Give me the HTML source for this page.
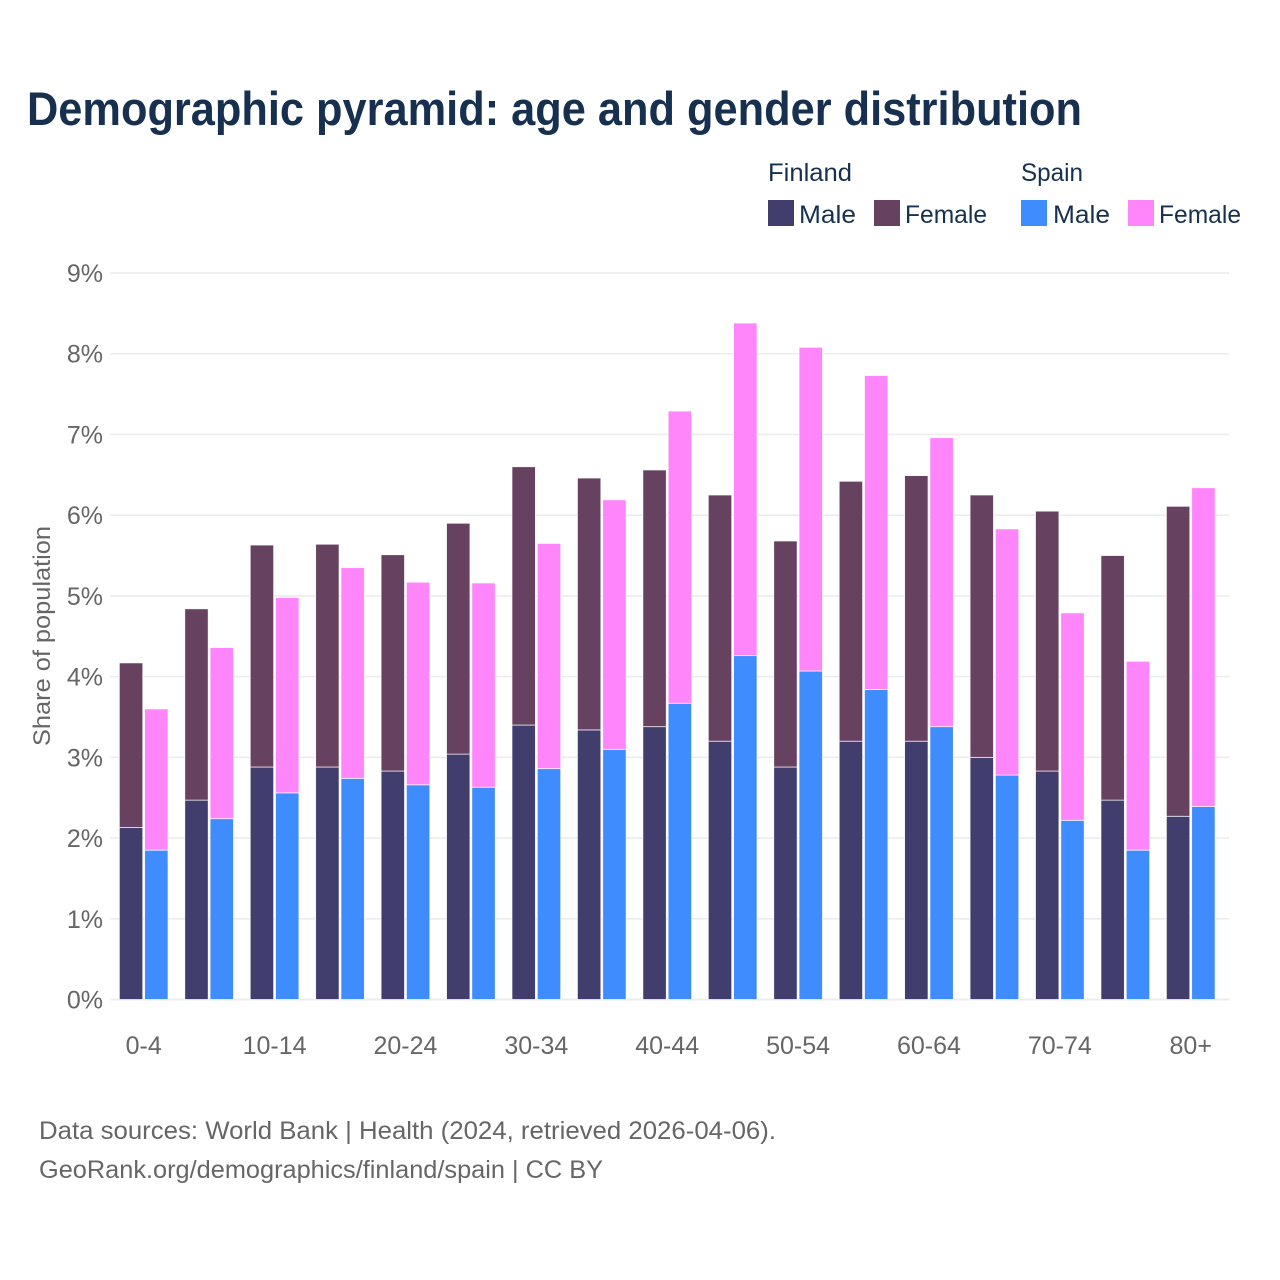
<!DOCTYPE html>
<html lang="en">
<head>
<meta charset="utf-8">
<title>Demographic pyramid</title>
<style>
html,body{margin:0;padding:0;background:#fff;width:1280px;height:1280px;overflow:hidden}
svg{display:block}
text{font-family:"Liberation Sans",sans-serif}
</style>
</head>
<body>
<svg id="chart" width="1280" height="1280" viewBox="0 0 1280 1280" xmlns="http://www.w3.org/2000/svg">
  <rect width="1280" height="1280" fill="#fff"/>
  <text x="27" y="125" font-size="47" font-weight="700" fill="#17304f" textLength="1055" lengthAdjust="spacingAndGlyphs">Demographic pyramid: age and gender distribution</text>

  <g font-size="25" fill="#17304f">
    <text x="768" y="181" textLength="84" lengthAdjust="spacingAndGlyphs">Finland</text>
    <text x="1021" y="181" textLength="62" lengthAdjust="spacingAndGlyphs">Spain</text>
    <rect x="768" y="200" width="26" height="26" fill="#413e6e"/>
    <text x="799" y="223" textLength="57" lengthAdjust="spacingAndGlyphs">Male</text>
    <rect x="874" y="200" width="26" height="26" fill="#674160"/>
    <text x="905" y="223" textLength="82" lengthAdjust="spacingAndGlyphs">Female</text>
    <rect x="1021" y="200" width="26" height="26" fill="#3f8cff"/>
    <text x="1053" y="223" textLength="57" lengthAdjust="spacingAndGlyphs">Male</text>
    <rect x="1128" y="200" width="26" height="26" fill="#ff85fa"/>
    <text x="1159" y="223" textLength="82" lengthAdjust="spacingAndGlyphs">Female</text>
  </g>

  <g id="grid"></g>
  <g id="yticks"></g>
  <g id="bars"></g>
  <g id="xticks"></g>

  <text transform="translate(50,636) rotate(-90)" text-anchor="middle" font-size="24" fill="#666" textLength="220" lengthAdjust="spacingAndGlyphs">Share of population</text>

  <g font-size="25" fill="#666">
    <text x="39" y="1139" textLength="737" lengthAdjust="spacingAndGlyphs">Data sources: World Bank | Health (2024, retrieved 2026-04-06).</text>
    <text x="39" y="1178" textLength="564" lengthAdjust="spacingAndGlyphs">GeoRank.org/demographics/finland/spain | CC BY</text>
  </g>
</svg>
<script>
const ageGroups = ["0-4","5-9","10-14","15-19","20-24","25-29","30-34","35-39","40-44","45-49","50-54","55-59","60-64","65-69","70-74","75-79","80+"];
const shownAgeLabels = ["0-4","10-14","20-24","30-34","40-44","50-54","60-64","70-74","80+"];
const yTicks = [0,1,2,3,4,5,6,7,8,9];
const finlandMale = [2.13,2.47,2.88,2.88,2.83,3.04,3.40,3.34,3.38,3.20,2.88,3.20,3.20,3.00,2.83,2.47,2.27];
const finlandFemale = [2.04,2.37,2.75,2.76,2.68,2.86,3.20,3.12,3.18,3.05,2.80,3.22,3.29,3.25,3.22,3.03,3.84];
const spainMale = [1.85,2.24,2.56,2.74,2.66,2.63,2.86,3.10,3.67,4.26,4.07,3.84,3.38,2.78,2.22,1.85,2.39];
const spainFemale = [1.75,2.12,2.42,2.61,2.51,2.53,2.79,3.09,3.62,4.12,4.01,3.89,3.58,3.05,2.57,2.34,3.95];

const NS = "http://www.w3.org/2000/svg";
const COLORS = {fm:"#413e6e", ff:"#674160", sm:"#3f8cff", sf:"#ff85fa"};
function yScale(v){ return 999.5 - v * 80.72; }
function xCenter(i){ return 143.7 + i * 65.44; }
const BAR_W = 23.4, BAR_GAP = 1.9;

function make(tag, attrs, parent){
  const el = document.createElementNS(NS, tag);
  for (const k in attrs) el.setAttribute(k, attrs[k]);
  parent.appendChild(el);
  return el;
}

const gridG = document.getElementById("grid");
const yG = document.getElementById("yticks");
yTicks.forEach(function(t){
  const line = make("line", {x1:110, x2:1229, y1:yScale(t), y2:yScale(t), stroke:"#ececec", "stroke-width":t === 0 ? 2 : 1.6}, gridG);
  
  
  const label = make("text", {x:103, y:yScale(t) + 9, "text-anchor":"end", "font-size":25, fill:"#666"}, yG);
  
  
  label.textContent = t + "%";
});

function drawBar(x, lower, upper, color, name, parent){
  const rect = make("rect", {
    x:x, y:yScale(lower + upper), width:BAR_W,
    height:yScale(lower) - yScale(lower + upper),
    fill:color, stroke:"#fff", "stroke-width":0.8, "stroke-opacity":0.85
  }, parent);
  
  
}

const barsG = document.getElementById("bars");
ageGroups.forEach(function(age, i){
  const c = xCenter(i);
  const fx = c - BAR_GAP / 2 - BAR_W;
  const sx = c + BAR_GAP / 2;
  drawBar(fx, 0, finlandMale[i], COLORS.fm, 'bar-finland-male-' + age, barsG);
  drawBar(fx, finlandMale[i], finlandFemale[i], COLORS.ff, 'bar-finland-female-' + age, barsG);
  drawBar(sx, 0, spainMale[i], COLORS.sm, 'bar-spain-male-' + age, barsG);
  drawBar(sx, spainMale[i], spainFemale[i], COLORS.sf, 'bar-spain-female-' + age, barsG);
});

const xG = document.getElementById("xticks");
shownAgeLabels.forEach(function(age){
  const i = ageGroups.indexOf(age);
  const label = make("text", {x:xCenter(i), y:1054, "text-anchor":"middle", "font-size":25, fill:"#666"}, xG);
  
  
  label.textContent = age;
});
</script>
</body>
</html>
